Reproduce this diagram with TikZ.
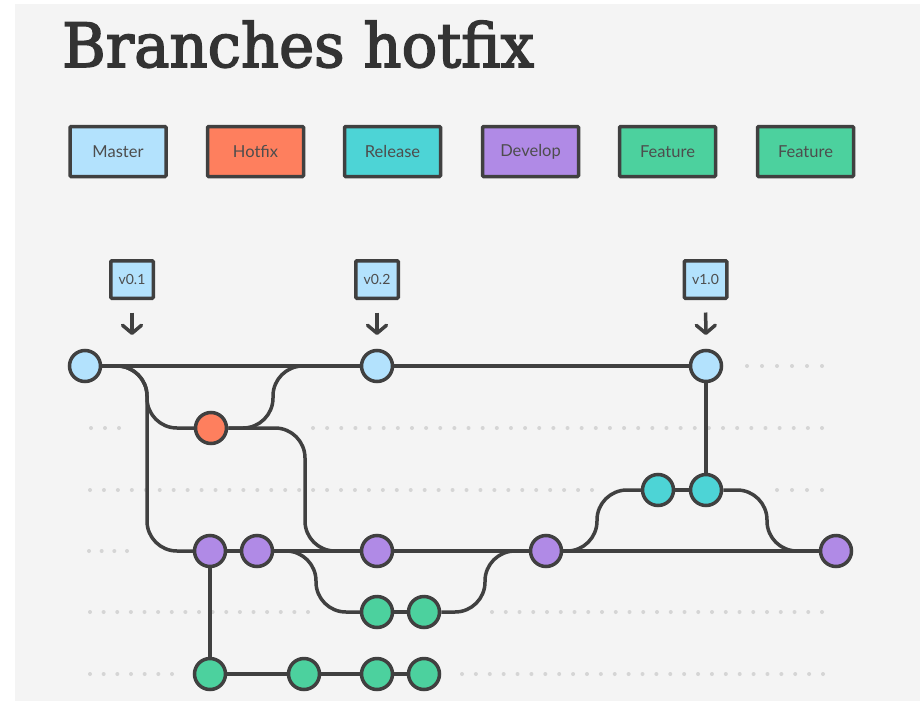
\documentclass[tikz,border=0pt]{standalone}
\usepackage{fontspec}
\usepackage{graphicx}
\setmainfont{Lato}
\newfontfamily\titlefont[FakeBold=2.6]{DejaVu Serif}
\usetikzlibrary{arrows.meta}
\pgfdeclarelayer{back}
\pgfdeclarelayer{mid}
\pgfsetlayers{back,mid,main}
\definecolor{bgc}{HTML}{F4F4F4}
\definecolor{ink}{HTML}{404040}
\definecolor{ttl}{HTML}{333333}
\definecolor{txt}{HTML}{4D4D4D}
\definecolor{dotc}{HTML}{D5D5D5}
\definecolor{cmaster}{HTML}{B3E2FD}
\definecolor{chotfix}{HTML}{FE7F5E}
\definecolor{crelease}{HTML}{4DD4D6}
\definecolor{cdevelop}{HTML}{B08AE6}
\definecolor{cfeature}{HTML}{4CD19E}
\newcommand\gdots[4]{%
  \pgfmathsetmacro\gstep{(#3-#2)/(#4-1)}%
  \foreach \i in {1,...,#4}{\fill[dotc] ({#2+(\i-1)*\gstep},#1) circle[radius=2pt];}%
}
\tikzset{
  commit/.style={circle,draw=ink,line width=3.5pt,minimum size=31pt,inner sep=0pt},
  legend/.style={rectangle,draw=ink,line width=3.5pt,minimum width=96pt,minimum height=50pt,
    rounded corners=1pt,inner sep=0pt,text=txt,font=\fontsize{16.5}{19}\selectfont},
  tagbox/.style={rectangle,draw=ink,line width=3.5pt,fill=cmaster,minimum width=42.5pt,
    minimum height=37.5pt,rounded corners=1pt,inner sep=0pt,text=txt,font=\fontsize{14}{16}\selectfont},
  branch/.style={draw=ink,line width=3.5pt,rounded corners=30pt},
  tagarrow/.style={draw=ink,line width=3.5pt,shorten <=12.5pt,
    -{Straight Barb[length=8pt,width=19pt,round]}},
}
\begin{document}
\begin{tikzpicture}[x=1pt,y=-1pt]
\useasboundingbox (0,0) rectangle (920,701);
\begin{pgfonlayer}{back}
  \fill[bgc] (15,4) rectangle (920,701);
  % guide dots
  \gdots{366}{747}{822}{6}
  \gdots{428}{91}{119}{3}
  \gdots{428}{313}{822}{37}
  \gdots{490}{90}{592}{37}
  \gdots{490}{777}{822}{4}
  \gdots{551}{89}{127}{4}
  \gdots{612}{90}{308}{17}
  \gdots{612}{492}{822}{25}
  \gdots{674}{90}{172}{7}
  \gdots{674}{462}{823}{27}
\end{pgfonlayer}

% title
\node[anchor=base west,inner sep=0pt,text=ttl] (title) at (62,67)
  {\resizebox{472pt}{\height}{\titlefont\fontsize{61}{70}\selectfont Branches hotfix}};

% legend
\node[legend,fill=cmaster]  (lmaster)  at (118,151.5) {Master};
\node[legend,fill=chotfix]  (lhotfix)  at (255.5,151.5) {Hotfix};
\node[legend,fill=crelease] (lrelease) at (392.5,151.5) {Release};
\node[legend,fill=cdevelop] (ldevelop) at (530.5,151.5) {Develop};
\node[legend,fill=cfeature] (lfeatA)   at (667.5,151.5) {Feature};
\node[legend,fill=cfeature] (lfeatB)   at (805.5,151.5) {Feature};

% tags
\node[tagbox] (t01) at (132,279.5) {v0.1};
\node[tagbox] (t02) at (377,279.5) {v0.2};
\node[tagbox] (t10) at (705.5,279.5) {v1.0};

% commits
\node[commit,fill=cmaster] (M1) at (85,366) {};
\node[commit,fill=cmaster] (M2) at (377,366) {};
\node[commit,fill=cmaster] (M3) at (706,366) {};
\node[commit,fill=chotfix] (H1) at (211,428) {};
\node[commit,fill=crelease] (R1) at (658,490) {};
\node[commit,fill=crelease] (R2) at (706,490) {};
\node[commit,fill=cdevelop] (D1) at (210,551) {};
\node[commit,fill=cdevelop] (D2) at (257,551) {};
\node[commit,fill=cdevelop] (D3) at (377,551) {};
\node[commit,fill=cdevelop] (D4) at (546,551) {};
\node[commit,fill=cdevelop] (D5) at (836,551) {};
\node[commit,fill=cfeature] (FA1) at (377,612) {};
\node[commit,fill=cfeature] (FA2) at (424,612) {};
\node[commit,fill=cfeature] (FB1) at (210,674) {};
\node[commit,fill=cfeature] (FB2) at (304,674) {};
\node[commit,fill=cfeature] (FB3) at (377,674) {};
\node[commit,fill=cfeature] (FB4) at (424,674) {};

% point on the master line that v0.1 marks
\coordinate (p01) at (132,366);

% tag arrows
\draw[tagarrow,shorten >=31pt] (t01) -- (p01);
\draw[tagarrow,shorten >=13.75pt] (t02) -- (M2);
\draw[tagarrow,shorten >=13.75pt] (t10) -- (M3);

\begin{pgfonlayer}{mid}
  % master
  \draw[branch] (M1) -- (M2);
  \draw[branch] (M2) -- (M3);
  % hotfix out of master
  \draw[branch] (M1) -- (147,366) -- (147,428) -- (H1);
  % develop out of master
  \draw[branch] (M1) -- (147,366) -- (147,551) -- (D1);
  % hotfix merged into master
  \draw[branch] (H1) -- (273,428) -- (273,366) -- (M2);
  % hotfix merged into develop
  \draw[branch] (H1) -- (305,428) -- (305,551) -- (D3);
  % develop line
  \draw[branch] (D1) -- (D2);
  \draw[branch] (D2) -- (D3);
  \draw[branch] (D3) -- (D4);
  \draw[branch] (D4) -- (D5);
  % feature branch A
  \draw[branch] (D2) -- (316,551) -- (316,612) -- (FA1);
  \draw[branch] (FA1) -- (FA2);
  \draw[branch] (FA2) -- (485,612) -- (485,551) -- (D4);
  % feature branch B
  \draw[branch] (D1) -- (FB1);
  \draw[branch] (FB1) -- (FB2);
  \draw[branch] (FB2) -- (FB3);
  \draw[branch] (FB3) -- (FB4);
  % release
  \draw[branch] (D4) -- (597,551) -- (597,490) -- (R1);
  \draw[branch] (R1) -- (R2);
  \draw[branch] (R2) -- (M3);
  \draw[branch] (R2) -- (767,490) -- (767,551) -- (D5);
\end{pgfonlayer}
\end{tikzpicture}
\end{document}
